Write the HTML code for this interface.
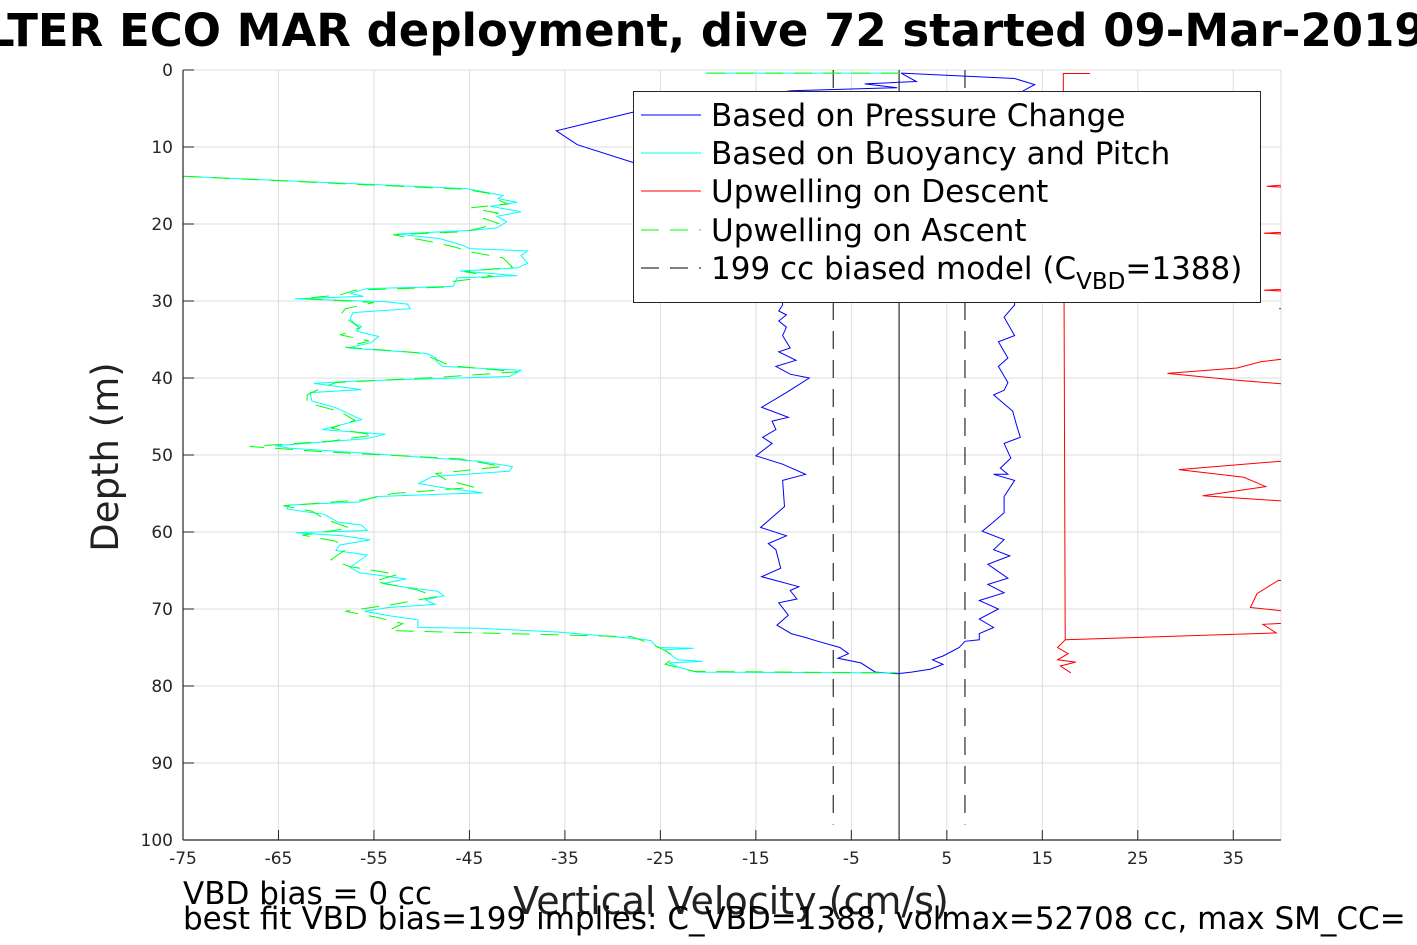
<!DOCTYPE html>
<html><head><meta charset="utf-8">
<style>
html,body{margin:0;padding:0;background:#fff;width:1417px;height:945px;overflow:hidden}
svg{display:block;font-family:"DejaVu Sans","Liberation Sans",sans-serif}
</style></head>
<body>
<svg id="chart" width="1417" height="945" viewBox="0 0 1417 945">
<defs><clipPath id="plotclip"><rect x="183" y="70" width="1098" height="770"/></clipPath></defs>
<text x="-14" y="46" font-size="45" font-weight="bold" fill="#000">LTER ECO MAR deployment, dive 72 started 09-Mar-2019</text>
<g id="grid"></g>
<g id="series" clip-path="url(#plotclip)"></g>
<g id="axes"></g>
<text x="118" y="457" font-size="37" text-anchor="middle" transform="rotate(-90 118 457)" fill="#222">Depth (m)</text>
<text x="731" y="914" font-size="38" text-anchor="middle" fill="#222">Vertical Velocity (cm/s)</text>
<text x="183" y="904" font-size="31" fill="#000">VBD bias = 0 cc</text>
<text x="183" y="929" font-size="31" fill="#000">best fit VBD bias=199 implies: C_VBD=1388, volmax=52708 cc, max SM_CC=</text>
<g>
<rect x="633.5" y="91.5" width="627" height="211" fill="#fff" stroke="#262626" stroke-width="1"/>
<line x1="641" y1="115" x2="701" y2="115" stroke="#0000ff" stroke-width="1"/>
<line x1="641" y1="153" x2="701" y2="153" stroke="#00ffff" stroke-width="1"/>
<line x1="641" y1="191" x2="701" y2="191" stroke="#ff0000" stroke-width="1"/>
<line x1="641" y1="230" x2="701" y2="230" stroke="#00ff00" stroke-width="1" stroke-dasharray="18,11"/>
<line x1="641" y1="268" x2="701" y2="268" stroke="#000" stroke-width="1" stroke-dasharray="18,11"/>
<g font-size="31" fill="#000">
<text x="711" y="126">Based on Pressure Change</text>
<text x="711" y="164">Based on Buoyancy and Pitch</text>
<text x="711" y="202">Upwelling on Descent</text>
<text x="711" y="241">Upwelling on Ascent</text>
<text x="711" y="279">199 cc biased model (C<tspan font-size="23" dy="10">VBD</tspan><tspan dy="-10">=1388)</tspan></text>
</g></g>
</svg>
<script>
const xTicks=[-75,-65,-55,-45,-35,-25,-15,-5,5,15,25,35];
const yTicks=[0,10,20,30,40,50,60,70,80,90,100];
const xMin=-75,xMax=40,yMin=0,yMax=100;
// Buoyancy & pitch (cyan): depth, velocity
const cyanDepth=[0.4,0.4,null,13.8,15.4,16.3,16.7,17.2,17.7,18.4,19.0,19.7,20.5,20.8,21.3,21.9,22.8,23.2,23.5,24.1,25.1,25.7,26.1,26.7,27.0,28.1,28.4,29.0,29.4,29.7,30.1,30.4,31.0,31.5,32.3,33.0,33.3,33.9,34.3,34.6,35.4,36.1,36.8,37.4,37.8,38.5,39.0,39.8,40.4,40.7,41.5,41.9,43.0,43.8,45.4,46.7,47.3,47.9,48.8,49.1,49.8,50.8,51.5,52.1,52.8,53.7,54.3,54.9,55.4,56.1,56.5,57.0,57.2,57.7,58.7,59.1,59.8,60.1,60.5,61.0,61.7,62.4,63.0,64.6,65.3,66.1,66.7,67.2,67.7,68.3,68.8,69.4,69.8,70.3,70.9,71.4,72.4,72.5,73.0,73.9,74.1,75.0,75.1,75.3,76.6,76.8,77.0,77.6,78.2,78.3];
const cyanVel=[0,-20.3,null,-75,-45.3,-41.5,-42,-40.0,-42.8,-39.6,-42.1,-41.1,-42.1,-44.6,-52.6,-48.1,-45.6,-45.0,-38.9,-39.6,-38.9,-40,-46,-40,-46.3,-46.7,-55.8,-57.5,-56.1,-63.3,-53.8,-51.5,-51.2,-57.2,-57.5,-57.0,-56.3,-56.8,-55.6,-54.5,-55.3,-57.7,-49.5,-48.5,-48.5,-47.8,-39.6,-40.8,-57.2,-61.3,-56.3,-61.7,-61.5,-59.1,-56.3,-60.4,-53.8,-55.9,-65.3,-63.9,-55.5,-44.0,-40.5,-40.8,-48.9,-50.3,-47.5,-43.6,-54.8,-56.6,-63.9,-64.1,-63.2,-60.2,-58.8,-56.3,-55.7,-63.2,-58.3,-55.4,-58.6,-59.0,-55.7,-57.5,-56.5,-51.6,-54.1,-51.6,-48.3,-47.7,-49.6,-48.6,-53.5,-56.0,-53.3,-50.4,-50.4,-44.0,-35.6,-27.1,-26.0,-25.3,-21.5,-24.6,-23.2,-20.6,-24.1,-23.0,-21.2,-0.2];
// Upwelling on ascent (green dashed)
const greenDepth=[0.4,0.4,null,13.8,15.5,16.0,16.6,17.4,17.9,18.6,19.3,19.9,20.4,21.0,21.4,22.3,23.0,23.6,24.4,25.0,25.6,26.2,26.8,27.5,28.2,28.6,29.2,29.7,30.2,31.0,31.8,32.6,33.5,34.4,35.2,36.0,36.7,37.6,38.4,39.2,39.9,40.6,41.3,42.2,43.2,44.4,45.5,46.5,47.4,48.2,48.9,49.6,50.5,51.5,52.4,53.2,54.2,55.0,55.8,56.6,57.3,58.4,59.5,60.4,61.2,62.3,63.6,64.5,65.5,66.4,67.5,68.4,69.4,70.3,71.0,71.9,72.8,73.6,74.5,75.4,76.2,77.2,78.1,78.3];
const greenVel=[0,-20.3,null,-75,-45.5,-43.0,-42.5,-41.0,-44.8,-42.0,-43.5,-42.0,-43.5,-45.5,-53.0,-49.0,-46.5,-45.0,-41.5,-41.0,-40.5,-45.5,-42.5,-47.0,-47.5,-57.0,-58.5,-62.5,-55.0,-58.0,-58.5,-57.5,-56.5,-58.5,-55.5,-58.0,-50.5,-48.5,-47.0,-40.0,-48.0,-59.0,-60.5,-62.0,-62.0,-58.5,-57.0,-59.5,-55.0,-59.5,-68.0,-60.0,-46.0,-41.5,-48.5,-47.5,-44.5,-53.0,-56.0,-64.5,-61.5,-60.0,-57.5,-62.5,-59.0,-58.0,-59.5,-57.5,-52.5,-55.0,-50.5,-48.5,-53.0,-58.0,-55.0,-52.0,-53.5,-28.0,-26.0,-24.5,-23.5,-24.5,-21.5,-0.2];
// Pressure-change velocity (blue), descent then ascent
const blueDepth=[0.4,1.1,1.9,2.7,5,10,15,20,25,30.5,32.1,34.5,35.3,37.4,38.5,40.6,41.6,42.2,44.3,46.1,47.7,48.5,50.4,51.7,52.5,52.5,53.3,55.4,57.5,59.1,59.9,61.0,62.3,63.1,64.2,66.0,66.8,67.9,68.9,70.0,71.3,72.4,73.2,74.0,74.2,75.0,76.1,76.6,77.2,77.8,78.2,78.4,78.2,77.0,76.4,75.8,75.0,74.2,73.7,73.2,72.1,70.8,69.2,68.7,67.6,67.1,65.8,64.7,62.3,61.5,60.5,59.4,56.7,53.3,52.5,51.2,50.1,48.5,47.7,46.7,45.6,45.1,43.8,41.9,40.0,39.5,38.5,37.7,36.6,36.1,34.5,33.4,32.6,31.8,31.3,30.5,25,20,15,12.0,9.7,7.9,5.5,2.7,2.3,1.8,1.5,0.4];
const blueVel=[0.2,12.1,14.2,13.0,12.5,11.5,12.0,11.0,12.0,12.1,11.0,12.1,10.4,11.4,10.4,11.4,11.0,9.9,11.9,12.3,12.7,11.0,11.7,10.6,11.4,9.9,12.1,11.0,11.0,9.5,8.7,11.0,9.9,11.6,9.3,11.4,9.3,11.0,8.4,10.4,8.4,9.9,8.4,8.4,6.9,6.3,4.6,3.5,4.6,3.3,1.3,-0.2,-2.5,-4.0,-6.4,-5.3,-6.2,-8.5,-9.8,-11.3,-12.8,-11.6,-12.6,-10.7,-11.4,-10.5,-14.4,-12.4,-12.9,-13.7,-11.8,-14.5,-12.0,-12.2,-9.8,-12.2,-15.0,-13.3,-14.3,-12.9,-13.3,-11.6,-14.4,-11.8,-9.4,-11.4,-12.9,-10.8,-12.6,-11.4,-12.2,-11.8,-12.6,-11.8,-12.6,-12.2,-12.5,-13.0,-15.0,-27.9,-33.7,-35.9,-27.9,-11.3,-0.2,-3.6,1.8,0.2];
// Upwelling on descent (red): near-constant trace and excursions
const redDepth=[0.45,0.45,74.0,75.0,75.8,76.6,76.9,77.4,78.3];
const redVel=[20.0,17.2,17.4,16.6,17.7,16.6,18.5,16.9,18.0];
const red2Depth=[14.5,15.1,15.6,20.8,21.2,21.6,28.2,28.6,29.0,30.5,31.0,31.2,36.8,37.9,38.7,39.4,40.3,40.8,47.4,47.7,47.9,50.3,51.9,52.9,54.1,55.3,56.0,66.2,66.3,68.0,69.8,70.3,71.5,72.0,73.1,74.0];
const red2Vel=[45,38.5,45,45,38.2,45,45,38.2,45,45,39.8,45,45,37.9,35.4,28.1,35.4,40.6,45,40.0,45,45,29.3,36.1,38.4,31.8,40.6,45,39.7,37.5,36.8,40.6,45,38.1,39.5,17.4];
// Model lines
const modelVel=[-6.9,0,6.9];
const modelDepthEnd=[98,100,98];

const X0=183,X1=1281,Y0=70,Y1=840;
const sx=v=>X0+(v-xMin)/(xMax-xMin)*(X1-X0);
const sy=d=>Y0+(d-yMin)/(yMax-yMin)*(Y1-Y0);
const NS="http://www.w3.org/2000/svg";
function mk(tag,attrs,parent){const e=document.createElementNS(NS,tag);for(const k in attrs)e.setAttribute(k,attrs[k]);parent.appendChild(e);return e;}
const grid=document.getElementById('grid'),axes=document.getElementById('axes'),ser=document.getElementById('series');
xTicks.forEach(t=>{
  const gl=mk('line',{x1:sx(t),x2:sx(t),y1:Y0,y2:Y1,stroke:'#dedede','stroke-width':1},grid);
  
  
  const tk=mk('line',{x1:sx(t),x2:sx(t),y1:Y1,y2:Y1-10,stroke:'#262626','stroke-width':1},axes);
  
  
  const tl=mk('text',{x:sx(t),y:Y1+24,'font-size':17,'text-anchor':'middle',fill:'#262626'},axes);
  tl.textContent=String(t);
  
  
});
const rg=mk('line',{x1:X1,x2:X1,y1:Y0,y2:Y1,stroke:'#dedede','stroke-width':1},grid);


yTicks.forEach(t=>{
  const gl=mk('line',{x1:X0,x2:X1,y1:sy(t),y2:sy(t),stroke:'#dedede','stroke-width':1},grid);
  
  
  const tk=mk('line',{x1:X0,x2:X0+11,y1:sy(t),y2:sy(t),stroke:'#262626','stroke-width':1},axes);
  
  
  const tl=mk('text',{x:X0-10,y:sy(t)+6,'font-size':17,'text-anchor':'end',fill:'#262626'},axes);
  tl.textContent=String(t);
  
  
});
const ya=mk('line',{x1:X0,x2:X0,y1:Y0,y2:Y1,stroke:'#262626','stroke-width':1.2},axes);


const xa=mk('line',{x1:X0,x2:X1,y1:Y1,y2:Y1,stroke:'#262626','stroke-width':1.2},axes);



function pathOf(ds,vs){let d='',pen=false;for(let i=0;i<ds.length;i++){if(ds[i]===null||vs[i]===null){pen=false;continue;}d+=(pen?'L':'M')+sx(vs[i]).toFixed(1)+','+sy(ds[i]).toFixed(1);pen=true;}return d;}
modelVel.forEach((v,i)=>{
  const l=mk('line',{x1:sx(v),x2:sx(v),y1:sy(0),y2:sy(modelDepthEnd[i]),stroke:'#000','stroke-width':1},ser);
  if(v!==0)l.setAttribute('stroke-dasharray','18,11');
  
  
});
const pr=mk('path',{d:pathOf(red2Depth,red2Vel),fill:'none',stroke:'#ff0000','stroke-width':1},ser);


const pr1=mk('path',{d:pathOf(redDepth,redVel),fill:'none',stroke:'#ff0000','stroke-width':1},ser);


const pb=mk('path',{d:pathOf(blueDepth,blueVel),fill:'none',stroke:'#0000ff','stroke-width':1},ser);


const pc=mk('path',{d:pathOf(cyanDepth,cyanVel),fill:'none',stroke:'#00ffff','stroke-width':1},ser);


const pg=mk('path',{d:pathOf(greenDepth,greenVel),fill:'none',stroke:'#00ff00','stroke-width':1,'stroke-dasharray':'18,11'},ser);


</script>
</body></html>
